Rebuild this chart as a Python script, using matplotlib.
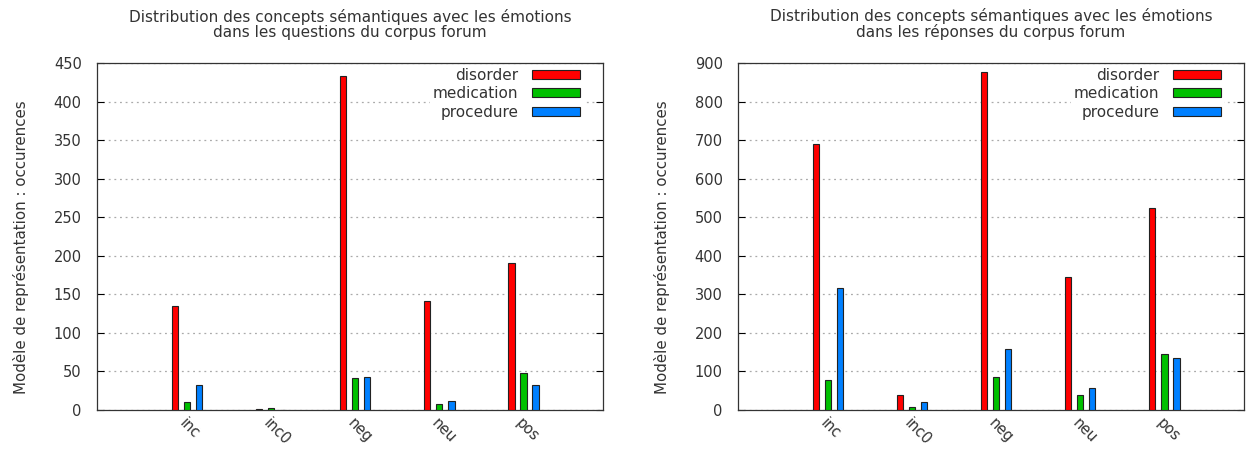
import matplotlib
matplotlib.use("Agg")
import matplotlib.pyplot as plt
import numpy as np

# Émotions (catégories en abscisse)
emotions = ["inc", "inc0", "neg", "neu", "pos"]
concepts = ["disorder", "medication", "procedure"]
couleurs = ["#ff0000", "#00c000", "#0080ff"]

# Corpus forum : questions
questions_disorder = [135, 1, 433, 141, 190]
questions_medication = [11, 2, 41, 8, 48]
questions_procedure = [33, 0, 43, 12, 32]

# Corpus forum : réponses
reponses_disorder = [691, 40, 877, 345, 523]
reponses_medication = [78, 7, 86, 38, 145]
reponses_procedure = [317, 20, 157, 58, 136]

plt.rcParams['font.family'] = ['DejaVu Sans']
TXT = "#333333"


def histogramme(ax, series, titre, ymax, pas):
    x = np.arange(len(emotions))
    largeur = 0.08
    decalage = 0.143
    for j, (valeurs, nom, c) in enumerate(zip(series, concepts, couleurs)):
        ax.bar(x + (j - 1) * decalage, valeurs, largeur, color=c,
               edgecolor="#222222", linewidth=0.8, label=nom, zorder=3)
    ax.set_xlim(-1.07, 4.95)
    ax.set_ylim(0, ymax)
    ax.set_yticks(np.arange(0, ymax + 1, pas))
    ax.set_xticks(x)
    ax.set_xticklabels(emotions, rotation=-45, ha="left", va="top",
                       rotation_mode="anchor", color=TXT, fontsize=10.5)
    ax.tick_params(axis="x", length=0, pad=4)
    ax.tick_params(axis="y", direction="in", length=5, right=True,
                   labelsize=10.5, labelcolor=TXT, pad=11, width=0.8)
    ax.yaxis.grid(True, linestyle=(0, (1.5, 3)), color="#aaaaaa", linewidth=0.9, zorder=0)
    for s in ax.spines.values():
        s.set_color("#333333")
        s.set_linewidth(0.9)
    ax.set_title(titre, fontsize=11, color=TXT, pad=19, linespacing=1.0)
    ax.set_ylabel("Modèle de représentation : occurences", fontsize=10.8,
                  color=TXT, labelpad=18, y=0.47)
    leg = ax.legend(loc="upper right", bbox_to_anchor=(1 - 18 / 506, 1),
                    markerfirst=False, handlelength=3.15,
                    handleheight=0.5, handletextpad=0.92, labelspacing=0.24,
                    borderpad=0.2, borderaxespad=0.1, fontsize=11,
                    frameon=True, fancybox=False)
    leg.get_frame().set_facecolor("white")
    leg.get_frame().set_edgecolor("none")
    leg.get_frame().set_alpha(1)
    leg.set_zorder(5)
    for t in leg.get_texts():
        t.set_color(TXT)
    for h in leg.legend_handles:
        h.set_edgecolor("#222222")
        h.set_linewidth(0.8)


fig = plt.figure(figsize=(12.47, 4.51), dpi=100)
ax1 = fig.add_axes([0.0778, 0.0909, 0.4058, 0.7694])
ax2 = fig.add_axes([0.5918, 0.0909, 0.4058, 0.7694])

histogramme(ax1, [questions_disorder, questions_medication, questions_procedure],
            "Distribution des concepts sémantiques avec les émotions\ndans les questions du corpus forum",
            450, 50)
histogramme(ax2, [reponses_disorder, reponses_medication, reponses_procedure],
            "Distribution des concepts sémantiques avec les émotions\ndans les réponses du corpus forum",
            900, 100)

fig.savefig("out.png", dpi=100)
